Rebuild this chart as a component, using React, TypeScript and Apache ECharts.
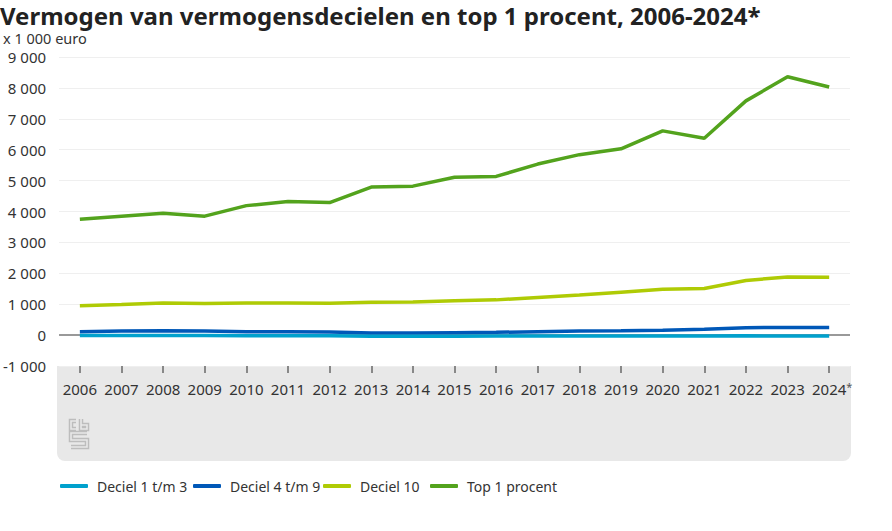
import React, { useEffect, useRef } from "react";
import * as echarts from "echarts";

const years = ["2006","2007","2008","2009","2010","2011","2012","2013","2014","2015","2016","2017","2018","2019","2020","2021","2022","2023","2024*"];
const deciel1t3 = [-10,-10,-15,-15,-20,-20,-25,-40,-40,-35,-30,-30,-30,-30,-30,-30,-25,-30,-30];
const deciel4t9 = [110,130,140,130,110,110,100,70,70,80,90,110,130,140,160,190,240,245,250];
const deciel10 = [950,990,1040,1020,1040,1040,1030,1060,1070,1110,1140,1220,1300,1390,1480,1510,1770,1880,1870];
const top1 = [3750,3850,3940,3850,4190,4320,4290,4790,4820,5110,5135,5535,5840,6030,6610,6370,7580,8360,8030];
const seriesNames = ["Deciel 1 t/m 3","Deciel 4 t/m 9","Deciel 10","Top 1 procent"];
const seriesColors = ["#00a1cd","#0058b8","#afcb05","#53a31d"];
const yTicks = { min: -1000, max: 9000, interval: 1000 };
const legendLefts = [60, 193, 323, 430];

const FONT = "'Noto Sans', sans-serif";

function fmt(v: number): string {
  const s = Math.abs(v).toString().replace(/\B(?=(\d{3})+(?!\d))/g, " ");
  return (v < 0 ? "-" : "") + s;
}

const logoD = "M7 2H2V10H7M12 0V10H18V6H12M18 14H2V21H18V28H2";

export default function App() {
  const ref = useRef<HTMLDivElement>(null);
  useEffect(() => {
    if (!ref.current) return;
    try { echarts.graphic.registerShape("cbslogo", echarts.graphic.extendPath(logoD, {}) as any); } catch (e) {}
    const chart = echarts.init(ref.current, null, { renderer: "svg" });
    const data = [deciel1t3, deciel4t9, deciel10, top1];
    const lineSeries = data.map((d, i) => ({
      name: seriesNames[i], type: "line", data: d, symbol: "none", smooth: false,
      color: seriesColors[i],
      lineStyle: { width: 3.5, color: seriesColors[i] },
      z: 10 - i
    }));
    chart.setOption({
      animation: false,
      backgroundColor: "#ffffff",
      textStyle: { fontFamily: FONT },
      title: [
        { text: "Vermogen van vermogensdecielen en top 1 procent, 2006-2024*", left: 0, top: 2, padding: 0, textStyle: { fontSize: 24, lineHeight: 26, fontWeight: "bold", color: "#222", fontFamily: FONT } },
        { text: "x 1 000 euro", left: 3, top: 30, padding: 0, textStyle: { fontSize: 14.5, lineHeight: 15, fontWeight: "normal", color: "#333", fontFamily: FONT } }
      ],
      graphic: {
        z: -1,
        elements: [
          { type: "rect", z: -10, z2: 0, shape: { x: 57, y: 366, width: 794, height: 95, r: [0, 0, 8, 8] }, style: { fill: "#e8e8e8" }, silent: true },
          { type: "cbslogo", z: -9, z2: 1, x: 69, y: 419, style: { fill: null, stroke: "#bdbdbd", lineWidth: 4.5, lineJoin: "miter", lineCap: "butt" }, silent: true },
          { type: "cbslogo", z: -8, z2: 2, x: 69, y: 419, style: { fill: null, stroke: "#e8e8e8", lineWidth: 1.6, lineJoin: "miter", lineCap: "butt" }, silent: true }
        ]
      },
      legend: seriesNames.map((n, i) => ({
        left: legendLefts[i], top: 479, padding: 0, itemWidth: 28, itemHeight: 4, icon: "roundRect",
        textStyle: { fontSize: 14, color: "#333", fontFamily: FONT, padding: [0, 0, 0, 4] },
        data: [n]
      })),
      grid: { left: 58, right: 42, top: 57, bottom: 165, containLabel: false },
      xAxis: {
        type: "category", data: years, boundaryGap: true, z: 5,
        axisLine: { show: true, onZero: false, lineStyle: { color: "rgba(0,0,0,0)", width: 0 } },
        axisTick: { show: true, inside: false, interval: 0, alignWithLabel: true, length: 7, lineStyle: { color: "#888", width: 2 } },
        axisLabel: {
          interval: 0, margin: 15, fontSize: 15, color: "#333", fontFamily: FONT,
          formatter: (v: string) => v.endsWith("*") ? "{p|}" + v.slice(0, -1) + "{s|*}" : v,
          rich: { p: { width: 6 }, s: { fontSize: 11, color: "#555", verticalAlign: "top" } }
        },
        splitLine: { show: false }
      },
      yAxis: {
        type: "value", min: yTicks.min, max: yTicks.max, interval: yTicks.interval,
        axisLine: { show: false }, axisTick: { show: false },
        axisLabel: { margin: 13, fontSize: 15, color: "#333", fontFamily: FONT, formatter: (v: number) => fmt(v) },
        splitLine: { lineStyle: { color: "#efefef", width: 1 } }
      },
      series: [
        {
          name: "nul", type: "line", data: years.map(() => null), symbol: "none", z: 1, silent: true,
          markLine: { silent: true, symbol: "none", label: { show: false }, lineStyle: { color: "#999", width: 2, type: "solid" }, data: [{ yAxis: 0 }] }
        },
        ...lineSeries
      ]
    });
    return () => chart.dispose();
  }, []);
  return <div ref={ref} style={{ width: 892, height: 531, position: "absolute", left: 0, top: 0 }} />;
}
